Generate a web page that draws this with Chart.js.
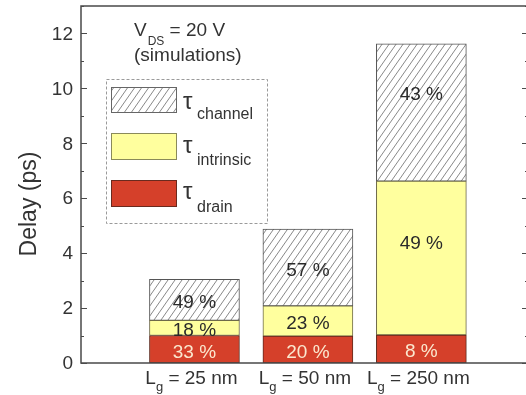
<!DOCTYPE html>
<html><head><meta charset="utf-8">
<script src="https://cdn.jsdelivr.net/npm/chart.js@4.4.0/dist/chart.umd.min.js"></script>
<style>html,body{margin:0;padding:0;overflow:hidden;background:#fff}canvas{display:block}</style>
</head><body>
<canvas id="c" width="532" height="395" style="width:532px;height:395px"></canvas>
<script>
// ---- data ----
const categories = ['25 nm', '50 nm', '250 nm'];
const drainDelay = [1.0, 0.98, 1.02];
const intrinsicDelay = [0.55, 1.1, 5.6];
const channelDelay = [1.5, 2.8, 5.0];
const drainPct = [33, 20, 8];
const intrinsicPct = [18, 23, 49];
const channelPct = [49, 57, 43];
const yTickValues = [0, 2, 4, 6, 8, 10, 12];

// ---- styles ----
const RED = '#d5402a';
const YELLOW = '#ffff9e';
const FONT = '"Liberation Sans", Arial, sans-serif';
const TEXT = '#333';
const FRAME = '#4a4a4a';

function makeHatch() {
  const w = 7, h = 10;
  const c = document.createElement('canvas');
  c.width = w; c.height = h;
  const g = c.getContext('2d');
  g.fillStyle = '#fff'; g.fillRect(0, 0, w, h);
  g.strokeStyle = '#7a7a7a'; g.lineWidth = 0.9;
  g.beginPath();
  for (const dx of [-w, 0, w]) {
    g.moveTo(dx - 1, h + 1.43); g.lineTo(dx + w + 1, -1.43);
  }
  g.stroke();
  return g.createPattern(c, 'repeat');
}
const HATCH = makeHatch();

const pts = arr => arr.map((v, i) => ({ x: i + 1, y: v }));

const decor = {
  id: 'decor',
  afterDatasetsDraw(chart, args, opts) {
    const ctx = chart.ctx, ys = chart.scales.y;
    ctx.save();
    ctx.font = '19px ' + FONT;
    ctx.textAlign = 'center';
    ctx.textBaseline = 'middle';
    chart.data.datasets.forEach((ds, di) => {
      const meta = chart.getDatasetMeta(di);
      meta.data.forEach((el, j) => {
        const anchor = (opts.anchors[ds.key] || [])[j];
        const y = anchor != null ? ys.getPixelForValue(anchor) : (el.y + el.base) / 2 + 3;
        ctx.fillStyle = ds.pctColor;
        ctx.fillText(ds.pct[j] + ' %', el.x, y);
      });
    });
    ctx.restore();
  },
  afterDraw(chart) {
    const ctx = chart.ctx, a = chart.chartArea, xs = chart.scales.x, ys = chart.scales.y;
    ctx.save();
    // frame
    ctx.strokeStyle = FRAME; ctx.lineWidth = 1.5;
    ctx.beginPath();
    ctx.moveTo(a.left, a.top); ctx.lineTo(a.right, a.top); ctx.lineTo(a.right, a.bottom);
    ctx.lineTo(a.left, a.bottom); ctx.closePath();
    ctx.stroke();
    // ticks (inward)
    ctx.lineWidth = 1;
    ctx.beginPath();
    for (let v = 0; v <= 13; v++) {
      const y = Math.round(ys.getPixelForValue(v)) + 0.5;
      const len = v % 2 === 0 ? 6 : 3;
      ctx.moveTo(a.left, y); ctx.lineTo(a.left + len, y);
      ctx.moveTo(a.right, y); ctx.lineTo(a.right - len, y);
    }
    ctx.stroke();
    // tick labels
    ctx.fillStyle = TEXT;
    ctx.font = '19px ' + FONT;
    ctx.textAlign = 'right'; ctx.textBaseline = 'middle';
    yTickValues.forEach(v => ctx.fillText(String(v), a.left - 8, ys.getPixelForValue(v) + 1));
    // y title
    ctx.save();
    ctx.translate(30, 204); ctx.rotate(-Math.PI / 2);
    ctx.textAlign = 'center'; ctx.textBaseline = 'middle';
    ctx.font = '23px ' + FONT;
    ctx.fillText('Delay (ps)', 0, 0);
    ctx.restore();
    // x labels: L_g = ...
    ctx.textAlign = 'left'; ctx.textBaseline = 'alphabetic';
    categories.forEach((c, i) => {
      const cx = xs.getPixelForValue(i + 1) - 3;
      ctx.font = '19px ' + FONT;
      const wL = ctx.measureText('L').width;
      const rest = ' = ' + c;
      const wR = ctx.measureText(rest).width;
      ctx.font = '13px ' + FONT;
      const wg = ctx.measureText('g').width;
      let x = cx - (wL + wg + wR) / 2;
      ctx.font = '19px ' + FONT; ctx.fillText('L', x, 384); x += wL;
      ctx.font = '13px ' + FONT; ctx.fillText('g', x, 391); x += wg;
      ctx.font = '19px ' + FONT; ctx.fillText(rest, x, 384);
    });
    // annotation
    let x = 134;
    ctx.font = '19px ' + FONT; ctx.fillText('V', x, 36); x += ctx.measureText('V').width + 1;
    ctx.font = '12px ' + FONT; ctx.fillText('DS', x, 45); x += ctx.measureText('DS').width;
    ctx.font = '19px ' + FONT; ctx.fillText(' = 20 V', x, 36);
    ctx.fillText('(simulations)', 134, 61);
    // legend
    ctx.setLineDash([3, 2]); ctx.strokeStyle = '#9a9a9a'; ctx.lineWidth = 1;
    ctx.strokeRect(106.5, 79.5, 161, 144);
    ctx.setLineDash([]);
    const items = [
      { fill: HATCH, border: '#666', y: 87, h: 26, sub: 'channel', tb: 109, sb: 119 },
      { fill: YELLOW, border: '#8a8a5a', y: 133, h: 27, sub: 'intrinsic', tb: 153, sb: 165 },
      { fill: RED, border: '#6a2a1e', y: 180, h: 27, sub: 'drain', tb: 199, sb: 212 }
    ];
    items.forEach(it => {
      ctx.fillStyle = it.fill; ctx.fillRect(111, it.y, 66, it.h);
      ctx.strokeStyle = it.border; ctx.strokeRect(111.5, it.y + 0.5, 65, it.h - 1);
      ctx.fillStyle = TEXT;
      ctx.font = '24px ' + FONT; ctx.fillText('τ', 183, it.tb);
      ctx.font = '16px ' + FONT; ctx.fillText(it.sub, 197, it.sb);
    });
    ctx.restore();
  }
};

new Chart(document.getElementById('c'), {
  type: 'bar',
  data: {
    datasets: [
      { key: 'drain', label: 'τdrain', data: pts(drainDelay), backgroundColor: RED, borderColor: '#5e2a1e',
        pct: drainPct, pctColor: '#fbe8cf' },
      { key: 'intrinsic', label: 'τintrinsic', data: pts(intrinsicDelay), backgroundColor: YELLOW, borderColor: '#6e6a4a',
        pct: intrinsicPct, pctColor: '#2a2a2a' },
      { key: 'channel', label: 'τchannel', data: pts(channelDelay), backgroundColor: HATCH, borderColor: '#555',
        pct: channelPct, pctColor: '#2a2a2a' }
    ].map(d => Object.assign(d, { borderWidth: 1, borderSkipped: false, barThickness: 90 }))
  },
  options: {
    responsive: false, animation: false, devicePixelRatio: 1,
    layout: { padding: { left: 81, top: 6, right: 4, bottom: 32 } },
    plugins: {
      legend: { display: false }, tooltip: { enabled: false },
      decor: { anchors: { channel: [null, null, 9.75], intrinsic: [null, null, 4.35] } }
    },
    scales: {
      x: { type: 'linear', min: 0, max: 3.94, offset: false, stacked: true, display: false },
      y: { min: 0, max: 13, stacked: true, display: false }
    }
  },
  plugins: [decor]
});
</script>
</body></html>
